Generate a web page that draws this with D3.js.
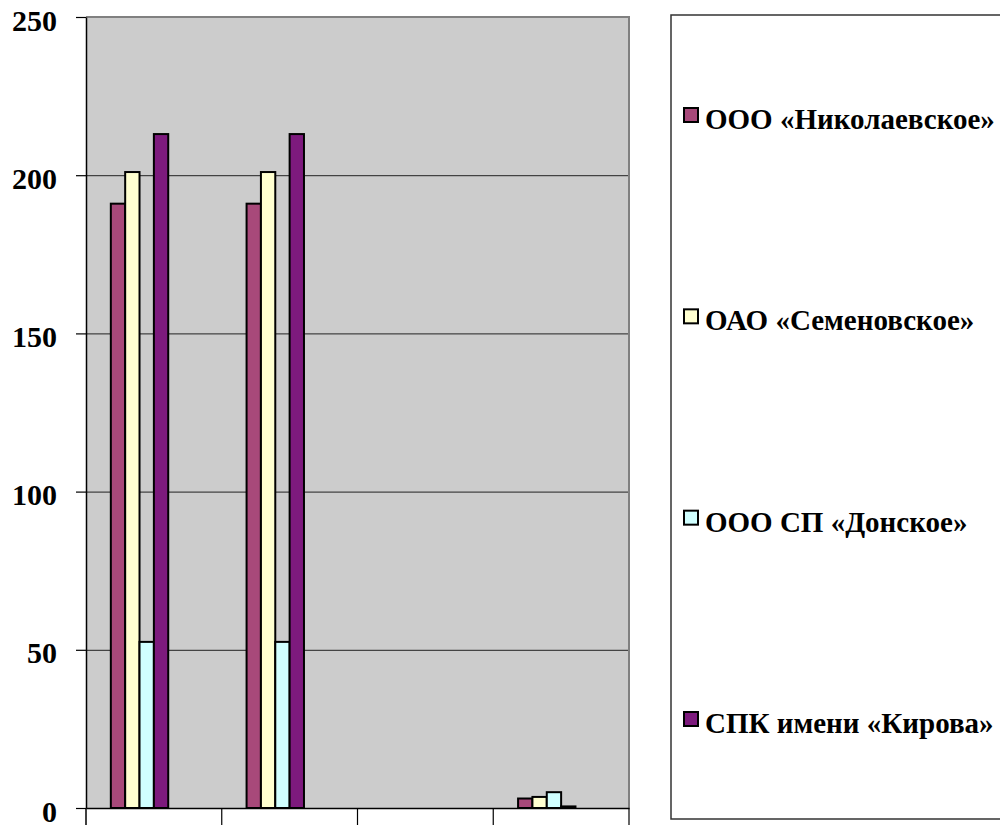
<!DOCTYPE html>
<html><head><meta charset="utf-8">
<script src="https://cdn.jsdelivr.net/npm/d3@7"></script>
<style>html,body{margin:0;padding:0;background:#fff;overflow:hidden}</style>
</head><body><svg id="c" width="1000" height="825"></svg>
<script>
// ---- data ----
const categories = ["1", "2", "3", "4"];
const seriesNames = ["ООО «Николаевское»", "ОАО «Семеновское»", "ООО СП «Донское»", "СПК имени «Кирова»"];
const nikolaevskoe = [191, 191, 0, 3];
const semenovskoe  = [201, 201, 0, 3.5];
const donskoe      = [52.5, 52.5, 0, 5];
const kirova       = [213, 213, 0, 0.5];
const seriesValues = [nikolaevskoe, semenovskoe, donskoe, kirova];
const seriesColors = ["#A8497A", "#FFFFD0", "#D0FFFF", "#7D1A7D"];
const yTicks = [0, 50, 100, 150, 200, 250];
const emptySlots = 2; // two blank series slots in the original chart

// ---- layout ----
const svg = d3.select("#c");
const L = 86, R = 629, T = 17, B = 808;
const FONT = '"Liberation Serif", serif';
function styleText(sel, size) {
  sel.style("font-family", FONT).style("font-weight", "bold").style("font-size", size + "px").attr("fill", "#000");
}

const y = d3.scaleLinear().domain([0, 250]).range([B, T]);
const x0 = d3.scaleBand().domain(categories).range([L, R]).padding(0);
const x1 = d3.scaleBand().domain(d3.range(seriesNames.length + emptySlots))
  .range([0, x0.bandwidth()]).paddingInner(0).paddingOuter(1.73);

// plot background
svg.append("rect").attr("x", L).attr("y", T).attr("width", R - L).attr("height", B - T)
  .attr("fill", "#CCCCCC");

// gridlines
svg.append("g").attr("transform", `translate(${L},0)`)
  .call(d3.axisLeft(y).tickValues(yTicks.filter(v => v > 0 && v < 250)).tickSize(-(R - L)).tickFormat(""))
  .call(g => g.select(".domain").remove())
  .call(g => g.selectAll("line").attr("stroke", "#222").attr("stroke-width", 1));

// plot border top & right (gray)
svg.append("line").attr("x1", L).attr("x2", R + 1).attr("y1", T).attr("y2", T)
  .attr("stroke", "#808080").attr("stroke-width", 2);
svg.append("line").attr("x1", R).attr("x2", R).attr("y1", T).attr("y2", B)
  .attr("stroke", "#808080").attr("stroke-width", 2);

// bars
const gCat = svg.append("g").selectAll("g").data(categories).join("g")
  .attr("transform", d => `translate(${x0(d)},0)`);
gCat.selectAll("rect")
  .data((c, ci) => seriesValues.map((vals, si) => ({ si, v: vals[ci] })).filter(d => d.v > 0))
  .join("rect")
  .attr("x", d => x1(d.si))
  .attr("width", x1.bandwidth())
  .attr("y", d => y(d.v))
  .attr("height", d => y(0) - y(d.v))
  .attr("fill", d => seriesColors[d.si])
  .attr("stroke", "#000").attr("stroke-width", 2);

// y axis
svg.append("g").attr("transform", `translate(${L},0)`)
  .call(d3.axisLeft(y).tickValues(yTicks).tickSize(10).tickPadding(19).tickSizeOuter(0))
  .call(g => g.select(".domain").attr("stroke", "#000").attr("stroke-width", 1.5))
  .call(g => g.selectAll(".tick line").attr("stroke", "#000").attr("stroke-width", 1.2))
  .call(g => g.selectAll(".tick text").attr("dy", "13").call(styleText, 30));

// left axis extension down (first category boundary)
svg.append("line").attr("x1", L).attr("x2", L).attr("y1", B).attr("y2", 830)
  .attr("stroke", "#000").attr("stroke-width", 1.5);

// x axis
svg.append("g").attr("transform", `translate(0,${B})`)
  .call(d3.axisBottom(x0).tickSize(0).tickFormat(""))
  .call(g => g.select(".domain").attr("stroke", "#000").attr("stroke-width", 1.5));
// category boundary ticks
svg.append("g").selectAll("line").data(categories.slice(1).concat(["end"])).join("line")
  .attr("x1", d => d === "end" ? R : x0(d)).attr("x2", d => d === "end" ? R : x0(d))
  .attr("y1", B).attr("y2", 830)
  .attr("stroke", "#000").attr("stroke-width", 1.2);

// legend
svg.append("rect").attr("x", 671).attr("y", 15).attr("width", 340).attr("height", 804)
  .attr("fill", "#fff").attr("stroke", "#333").attr("stroke-width", 1.5);
const ly = d3.scalePoint().domain(seriesNames).range([115, 719]);
const lg = svg.append("g").selectAll("g").data(seriesNames).join("g")
  .attr("transform", d => `translate(0,${ly(d)})`);
lg.append("rect").attr("x", 684).attr("y", -7).attr("width", 14).attr("height", 14)
  .attr("fill", (d, i) => seriesColors[i]).attr("stroke", "#000").attr("stroke-width", 2);
const lt = lg.append("text").attr("x", 705).attr("y", 14).text(d => d).call(styleText, 30);
// fit legend font so the first entry spans ~290px as in the reference
const w0 = lt.node().getComputedTextLength();
if (w0 > 0) lt.style("font-size", (30 * 290 / w0).toFixed(2) + "px");
</script>
</body></html>
